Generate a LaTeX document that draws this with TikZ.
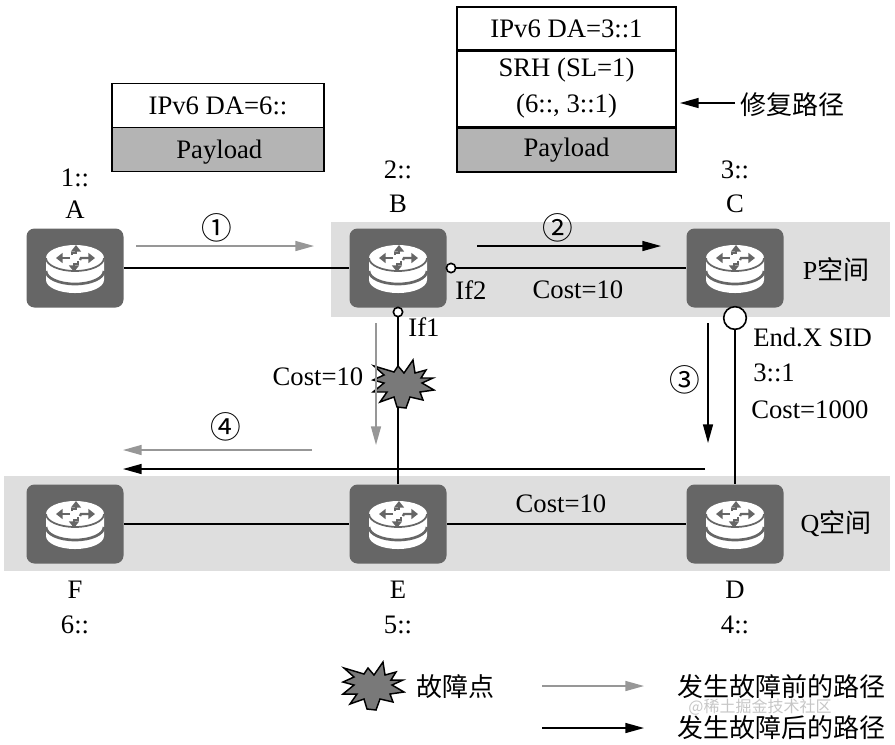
\documentclass[tikz,border=0pt]{standalone}
\usepackage{fontspec}
\setmainfont{Liberation Serif}
\newfontfamily\cjk{Noto Sans CJK SC}
\usetikzlibrary{arrows.meta, calc}
\definecolor{routergray}{HTML}{666666}
\definecolor{bandgray}{HTML}{DEDEDE}
\definecolor{payloadgray}{HTML}{B4B4B4}
\definecolor{pathgray}{HTML}{979797}

\begin{document}
\begin{tikzpicture}[
    x=0.75pt,y=-0.75pt,
    router/.style={draw=none, fill=routergray, rectangle, rounded corners=6pt, minimum width=72.75pt, minimum height=59.25pt, inner sep=0pt},
    band/.style={draw=none, fill=bandgray, rectangle, inner sep=0pt},
    cell/.style={draw, line width=0.9pt, rectangle, inner sep=0pt, align=center, font=\fontsize{20}{24}\selectfont},
    label/.style={inner sep=0pt, font=\fontsize{20}{24}\selectfont},
    cjklabel/.style={inner sep=0pt, font=\fontsize{19.5}{24}\selectfont\cjk},
    stepno/.style={inner sep=0pt, font=\fontsize{23}{26}\selectfont\cjk},
    port/.style={draw, line width=1.2pt, circle, fill=white, inner sep=0pt, minimum size=7pt},
    link/.style={line width=1.1pt},
    oldpath/.style={-{Triangle[length=14pt,width=7.5pt]}, line width=1.1pt, pathgray},
    newpath/.style={-{Triangle[length=14pt,width=7.5pt]}, line width=1.1pt, black},
    routericon/.pic={
        \fill[white] (-29,-10) -- (-29,12) arc (180:360:21.75pt and 9.75pt) -- (29,-10) arc (0:180:21.75pt and 9.75pt) -- cycle;
        \draw[routergray, line width=1.3pt] (-29,-10) arc (180:360:21.75pt and 9.75pt);
        \draw[routergray, line width=2pt] (-29,3) arc (180:360:21.75pt and 9.75pt);
        \draw[routergray, line width=1.7pt, -{Triangle[length=5pt,width=7.5pt]}] (-5,-10) -- (-19,-10);
        \draw[routergray, line width=1.7pt, -{Triangle[length=5pt,width=7.5pt]}] (5,-8) -- (6,-10) -- (20,-10);
        \draw[routergray, line width=1.7pt, -{Triangle[length=5pt,width=7.5pt]}] (-3,-13) -- (-3,-15) -- (1,-15) -- (1,-23);
        \draw[routergray, line width=1.7pt, -{Triangle[length=5pt,width=7.5pt]}] (3,-7) -- (3,-4) -- (-1,-4) -- (-1,4);
    },
    burst/.pic={
        \draw[fill=gray!95!black, line width=1.1pt, line join=miter] (-28,-19) -- (-8,-13) -- (-4,-19) -- (2,-12) -- (11,-25) -- (13,-12) -- (24,-15) -- (19,-7) -- (31,-7) -- (20,-2) -- (32,5) -- (18,7) -- (21,15) -- (8,12) -- (4,23) -- (-5,22) -- (-8,12) -- (-22,17) -- (-15,7) -- (-29,7) -- (-18,-2) -- (-29,-5) -- (-18,-10) -- cycle;
    }
]
    \useasboundingbox (0,0) rectangle (895,744);

    % ================= SPACES =================
    \node[band, minimum width=419.25pt, minimum height=71.25pt] (pspace) at (610.5,269.5) {};
    \node[band, minimum width=664.5pt, minimum height=71.25pt] (qspace) at (447,523.5) {};
    \node[cjklabel] (plabel) at (836,270) {\rmfamily P\cjk 空间};
    \node[cjklabel] (qlabel) at (836,524) {\rmfamily Q\cjk 空间};

    % ================= ROUTERS =================
    \node[router] (A) at (75,268) {};
    \node[router] (B) at (398,268) {};
    \node[router] (C) at (735,268) {};
    \node[router] (F) at (75,524) {};
    \node[router] (E) at (398,524) {};
    \node[router] (D) at (735,524) {};

    \foreach \name in {A,B,C,D,E,F}
        \pic at (\name) {routericon};

    \node[label] (nameA) at (75,210) {A};
    \node[label] (sidA) at (75,178) {1::};
    \node[label] (nameB) at (398,204) {B};
    \node[label] (sidB) at (398,170) {2::};
    \node[label] (nameC) at (735,204) {C};
    \node[label] (sidC) at (735,170) {3::};
    \node[label] (nameF) at (75,590) {F};
    \node[label] (sidF) at (75,625) {6::};
    \node[label] (nameE) at (398,590) {E};
    \node[label] (sidE) at (398,625) {5::};
    \node[label] (nameD) at (735,590) {D};
    \node[label] (sidD) at (735,625) {4::};

    % ================= LINKS =================
    \node[port] (if2) at (451,268) {};
    \node[port] (if1) at (398,312) {};
    \node[port, minimum size=17pt] (endx) at (735,318) {};

    \draw[link] (A) -- (B);
    \draw[link] (if2) -- (C);
    \draw[link] (if1) -- (E);
    \draw[link] (endx) -- (D);
    \draw[link] (F) -- (E);
    \draw[link] (E) -- (D);

    \node[label] (if2text) at (471,290) {If2};
    \node[label] (if1text) at (424,327) {If1};
    \node[label] (costbc) at (578,290) {Cost=10};
    \node[label] (costbe) at (318,377) {Cost=10};
    \node[label] (costed) at (561,504) {Cost=10};
    \node[label, anchor=west] (sidtext) at (753,337) {End.X SID};
    \node[label, anchor=west] (sidval) at (753,373) {3::1};
    \node[label, anchor=west] (costcd) at (751,410) {Cost=1000};

    \pic at (402,385) {burst};

    % ================= PATHS =================
    \coordinate (p1s) at (136,246);
    \coordinate (p1e) at (314,246);
    \coordinate (p2s) at (477,246);
    \coordinate (p2e) at (661,246);
    \coordinate (p3s) at (708,323);
    \coordinate (p3e) at (708,443);
    \coordinate (p4s) at (312,450);
    \coordinate (p4e) at (123,450);
    \coordinate (p5s) at (705,469);
    \coordinate (p5e) at (123,469);
    \coordinate (p6s) at (376,323);
    \coordinate (p6e) at (376,445);

    \draw[oldpath] (p1s) -- (p1e);
    \draw[newpath] (p2s) -- (p2e);
    \draw[newpath] (p3s) -- (p3e);
    \draw[oldpath] (p4s) -- (p4e);
    \draw[newpath] (p5s) -- (p5e);
    \draw[oldpath] (p6s) -- (p6e);

    \node[stepno] (step1) at (217,228) {①};
    \node[stepno] (step2) at (558,228) {②};
    \node[stepno] (step3) at (685,380) {③};
    \node[stepno] (step4) at (226,427) {④};

    % ================= PACKETS =================
    \node[cell, minimum width=159pt, minimum height=33pt] (pkta) at (218,105.5) {IPv6 DA=6::};
    \node[cell, fill=payloadgray, minimum width=159pt, minimum height=33pt, text depth=0pt] (pktb) at (218,149.5) {\hspace*{2pt}Payload};

    \node[cell, minimum width=164.25pt, minimum height=33pt] (repa) at (566.5,29) {IPv6 DA=3::1};
    \node[cell, minimum width=164.25pt, minimum height=57.75pt] (repb) at (566.5,88.5) {SRH (SL=1)\\[3pt](6::, 3::1)};
    \node[cell, fill=payloadgray, minimum width=164.25pt, minimum height=33pt] (repc) at (566.5,150) {Payload};

    \coordinate (reps) at (735,103);
    \coordinate (repe) at (680,103);
    \draw[newpath] (reps) -- (repe);
    \node[cjklabel] (reptext) at (792,105) {修复路径};

    % ================= LEGEND =================
    \pic at (372,687) {burst};
    \node[cjklabel] (legfault) at (455,687) {故障点};

    \coordinate (lega) at (542,686);
    \coordinate (legb) at (644,686);
    \coordinate (legc) at (542,728);
    \coordinate (legd) at (644,728);
    \draw[oldpath] (lega) -- (legb);
    \draw[newpath] (legc) -- (legd);
    \node[cjklabel] (legold) at (781,687) {发生故障前的路径};
    \node[cjklabel] (legnew) at (781,728) {发生故障后的路径};

    \node[inner sep=0pt, gray!45, font=\fontsize{12}{14}\selectfont\cjk] (mark) at (760,707) {@稀土掘金技术社区};

\end{tikzpicture}
\end{document}
